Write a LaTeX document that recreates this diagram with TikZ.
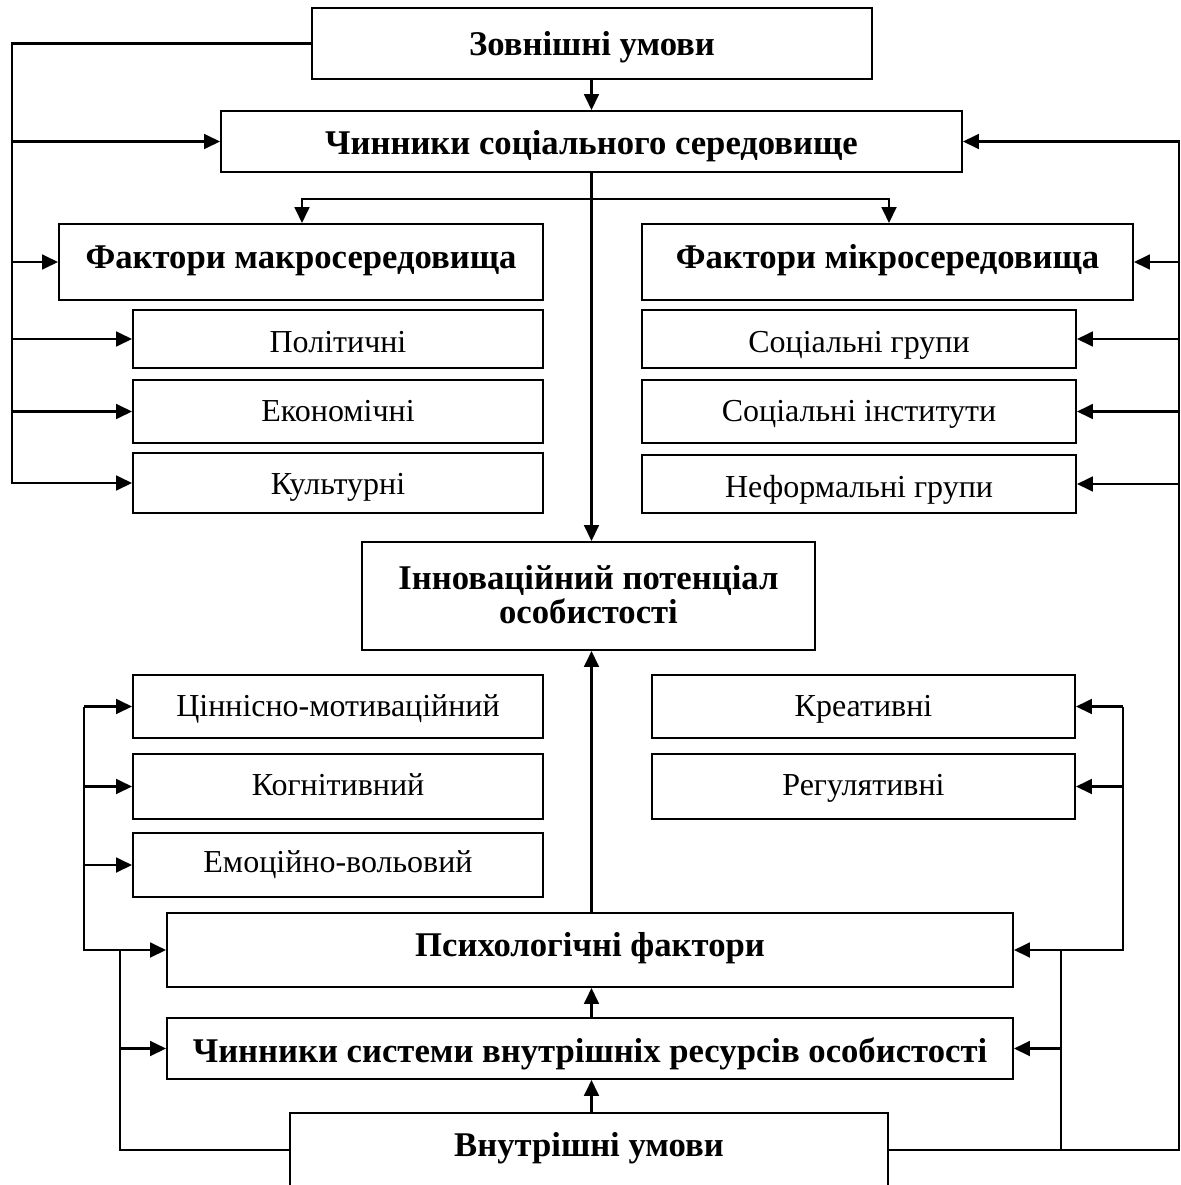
\documentclass[tikz,border=0pt]{standalone}
\usepackage{fontspec}
\setmainfont{Liberation Serif}
\usetikzlibrary{arrows.meta,fit}
\begin{document}
\begin{tikzpicture}[x=0.75pt,y=-0.75pt,
  frame/.style={draw=black,line width=1.4pt},
  boxn/.style={frame,rectangle,inner sep=0pt},
  btxt/.style={anchor=base,inner sep=0pt,font=\fontsize{26}{30}\selectfont\bfseries},
  rtxt/.style={anchor=base,inner sep=0pt,font=\fontsize{24}{28}\selectfont},
  conn/.style={line width=2.1pt,line join=miter},
  arr/.style={conn,-{Triangle[length=12pt,width=11pt]}},
  tarr/.style={conn,{Triangle[length=12pt,width=11pt]}-{Triangle[length=12pt,width=11pt]}}]
\useasboundingbox (0,0) rectangle (1181,1185);
\clip (0,0) rectangle (1181,1185);
% boxes
\node[boxn,fit={(312,8) (872,79)}] (zov) {};
\node[btxt] (zovt) at (592,55) {Зовнішні умови};
\node[boxn,fit={(221,111) (962,172)}] (chs) {};
\node[btxt] (chst) at (591.5,154) {Чинники соціального середовище};
\node[boxn,fit={(59,224) (543,300)}] (mak) {};
\node[btxt] (makt) at (301,268) {Фактори макросередовища};
\node[boxn,fit={(642,224) (1133,300)}] (mik) {};
\node[btxt] (mikt) at (887.5,268) {Фактори мікросередовища};
\node[boxn,fit={(133,310) (543,368)}] (pol) {};
\node[rtxt] (polt) at (338,352) {Політичні};
\node[boxn,fit={(133,380) (543,443)}] (eko) {};
\node[rtxt] (ekot) at (338,421) {Економічні};
\node[boxn,fit={(133,453) (543,513)}] (kul) {};
\node[rtxt] (kult) at (338,494) {Культурні};
\node[boxn,fit={(642,310) (1076,368)}] (sgr) {};
\node[rtxt] (sgrt) at (859,352) {Соціальні групи};
\node[boxn,fit={(642,380) (1076,443)}] (sin) {};
\node[rtxt] (sint) at (859,421) {Соціальні інститути};
\node[boxn,fit={(642,455) (1076,513)}] (nef) {};
\node[rtxt] (neft) at (859,497) {Неформальні групи};
\node[boxn,fit={(362,542) (815,650)}] (inn) {};
\node[btxt] (innt1) at (588.5,589) {Інноваційний потенціал};
\node[btxt] (innt2) at (588.5,623) {особистості};
\node[boxn,fit={(133,675) (543,738)}] (tsi) {};
\node[rtxt] (tsit) at (338,716) {Ціннісно-мотиваційний};
\node[boxn,fit={(133,754) (543,819)}] (kog) {};
\node[rtxt] (kogt) at (338,795) {Когнітивний};
\node[boxn,fit={(133,833) (543,897)}] (emo) {};
\node[rtxt] (emot) at (338,872) {Емоційно-вольовий};
\node[boxn,fit={(652,675) (1075,738)}] (kre) {};
\node[rtxt] (kret) at (863.5,716) {Креативні};
\node[boxn,fit={(652,754) (1075,819)}] (reg) {};
\node[rtxt] (regt) at (863.5,795) {Регулятивні};
\node[boxn,fit={(167,913) (1013,987)}] (psy) {};
\node[btxt] (psyt) at (590,956) {Психологічні фактори};
\node[boxn,fit={(167,1018) (1013,1079)}] (sys) {};
\node[btxt] (syst) at (590,1062) {Чинники системи внутрішніх ресурсів особистості};
\node[boxn,draw=none,fit={(291,1114) (887,1176)}] (vnu) {};
\node[btxt] (vnut) at (589,1156) {Внутрішні умови};
\coordinate (bot) at (0,1200);
\draw[frame] (vnu.west |- bot) -- (vnu.north west) -- (vnu.north east) -- (vnu.east |- bot);
% helper coordinates
\coordinate (L) at (12,0);
\coordinate (R) at (1179,0);
\coordinate (yb) at (0,1150);
\coordinate (bl) at (302,199);
\coordinate (bR) at (889,199);
\coordinate (LL) at (84,0);
\coordinate (LM) at (120,0);
\coordinate (RM) at (1061,0);
\coordinate (RR) at (1123,0);
% top connectors
\draw[arr] (zov.south -| chs.north) -- (chs.north);
\draw[arr] (chs.south) -- (chs.south |- inn.north);
\draw[tarr] (mak.north -| bl) -- (bl) -- (bR) -- (mik.north -| bR);
% left big bus
\draw[arr] (zov.west) -- (zov.west -| L) -- (L |- kul.west) -- (kul.west);
\draw[arr] (L |- chs.west) -- (chs.west);
\draw[arr] (L |- mak.west) -- (mak.west);
\draw[arr] (L |- pol.west) -- (pol.west);
\draw[arr] (L |- eko.west) -- (eko.west);
% right big bus
\draw[arr] (vnu.east |- yb) -- (R |- yb) -- (R |- chs.east) -- (chs.east);
\draw[arr] (R |- mik.east) -- (mik.east);
\draw[arr] (R |- sgr.east) -- (sgr.east);
\draw[arr] (R |- sin.east) -- (sin.east);
\draw[arr] (R |- nef.east) -- (nef.east);
% central up arrows
\draw[arr] (psy.north -| chs.south) -- (inn.south -| chs.south);
\draw[arr] (sys.north -| chs.south) -- (psy.south -| chs.south);
\draw[arr] (vnu.north -| chs.south) -- (sys.south -| chs.south);
% lower left
\draw[arr] (LL |- tsi.west) -- (LL |- psy.west) -- (psy.west);
\draw[arr] (LL |- tsi.west) -- (tsi.west);
\draw[arr] (LL |- kog.west) -- (kog.west);
\draw[arr] (LL |- emo.west) -- (emo.west);
\draw[conn] (LM |- psy.west) -- (LM |- yb) -- (vnu.west |- yb);
\draw[arr] (LM |- sys.west) -- (sys.west);
% lower right
\draw[arr] (RR |- kre.east) -- (RR |- psy.east) -- (psy.east);
\draw[arr] (RR |- kre.east) -- (kre.east);
\draw[arr] (RR |- reg.east) -- (reg.east);
\draw[conn] (RM |- psy.east) -- (RM |- yb);
\draw[arr] (RM |- sys.east) -- (sys.east);
\end{tikzpicture}
\end{document}
